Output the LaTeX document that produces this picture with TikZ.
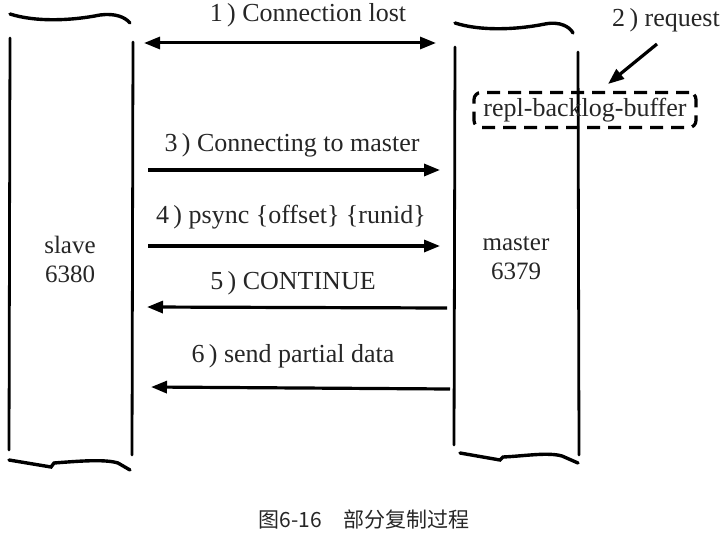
\documentclass[tikz,border=0pt]{standalone}
\usepackage{fontspec}
\setmainfont{Liberation Serif}
\newfontfamily\cjk{Noto Sans CJK SC}
\usetikzlibrary{arrows.meta,positioning,calc}
\tikzset{
  wall/.style={draw=black,line width=2.8pt,line cap=round},
  squiggle/.style={draw=black,line width=3.4pt,line cap=round},
  msg/.style={-{Triangle[length=16pt,width=12pt]},draw=black,line width=3.2pt},
  msgboth/.style={{Triangle[length=16pt,width=12pt]}-{Triangle[length=16pt,width=12pt]},draw=black,line width=3pt},
  msglabel/.style={font=\fontsize{26}{29}\selectfont,inner sep=1pt,text=black!85},
  hostlabel/.style={font=\fontsize{25}{29}\selectfont,align=center,inner sep=1pt,text=black!85},
  buffer/.style={draw=black,dashed,dash pattern=on 13pt off 8pt,line width=3.2pt,rounded corners=7pt,
    font=\fontsize{26}{29}\selectfont,minimum width=222pt,minimum height=35pt,inner sep=1pt,text=black!85}
}
\begin{document}
\begin{tikzpicture}[x=1pt,y=-1pt]
  \useasboundingbox (0,0) rectangle (727,535);
  % slave
  \draw[wall] (10,38) -- (9,450);
  \draw[wall] (133,42) -- (132,455);
  \draw[squiggle] (10,14) .. controls (35,22) and (70,21) .. (100,15) .. controls (115,13) and (125,17) .. (130,23);
  \draw[squiggle] (9,460) -- (51,467) -- (54,463) .. controls (80,461) and (105,459) .. (118,463) -- (130,470);
  \node[hostlabel] (slave) at (70,259) {slave\\6380};
  % master
  \draw[wall] (455,47) -- (454,445);
  \draw[wall] (578,52) -- (579,455);
  \draw[squiggle] (455,23) .. controls (480,31) and (515,30) .. (545,24) .. controls (560,21) and (570,27) .. (573,33);
  \draw[squiggle] (460,453) -- (500,460) -- (503,457) .. controls (525,456) and (548,452) .. (562,456) -- (578,463);
  \node[hostlabel] (master) at (516,258) {master\\6379};
  % backlog
  \node[buffer] (buf) at (585,110) {repl-backlog-buffer};
  \node[msglabel] (req) at (666,20) {2\,)\ request};
  \coordinate (reqtail) at (657,44);
  \coordinate (reqtip) at (608,84);
  \draw[msg,line width=3.2pt] (reqtail) -- (reqtip);
  % messages
  \coordinate (s1) at (144,43);
  \coordinate (m1) at (436,43);
  \draw[msgboth] (s1) -- (m1);
  \node[msglabel] (l1) at (308,15) {1\,)\ Connection lost};

  \coordinate (s3) at (148,170);
  \coordinate (m3) at (440,170);
  \draw[msg] (s3) -- (m3);
  \node[msglabel] (l3) at (292,145) {3\,)\ Connecting to master};

  \coordinate (s4) at (148,246);
  \coordinate (m4) at (440,246);
  \draw[msg] (s4) -- (m4);
  \node[msglabel] (l4) at (291,217) {4\,)\ psync \{offset\} \{runid\}};

  \coordinate (m5) at (447,308);
  \coordinate (s5) at (147,307);
  \draw[msg] (m5) -- (s5);
  \node[msglabel] (l5) at (293,283) {5\,)\ CONTINUE};

  \coordinate (m6) at (450,389);
  \coordinate (s6) at (151,387);
  \draw[msg] (m6) -- (s6);
  \node[msglabel] (l6) at (293,356) {6\,)\ send partial data};
  % caption
  \node[font=\cjk\fontsize{21}{24}\selectfont,text=black!85] (cap) at (364,520) {图6-16\quad 部分复制过程};
\end{tikzpicture}
\end{document}
